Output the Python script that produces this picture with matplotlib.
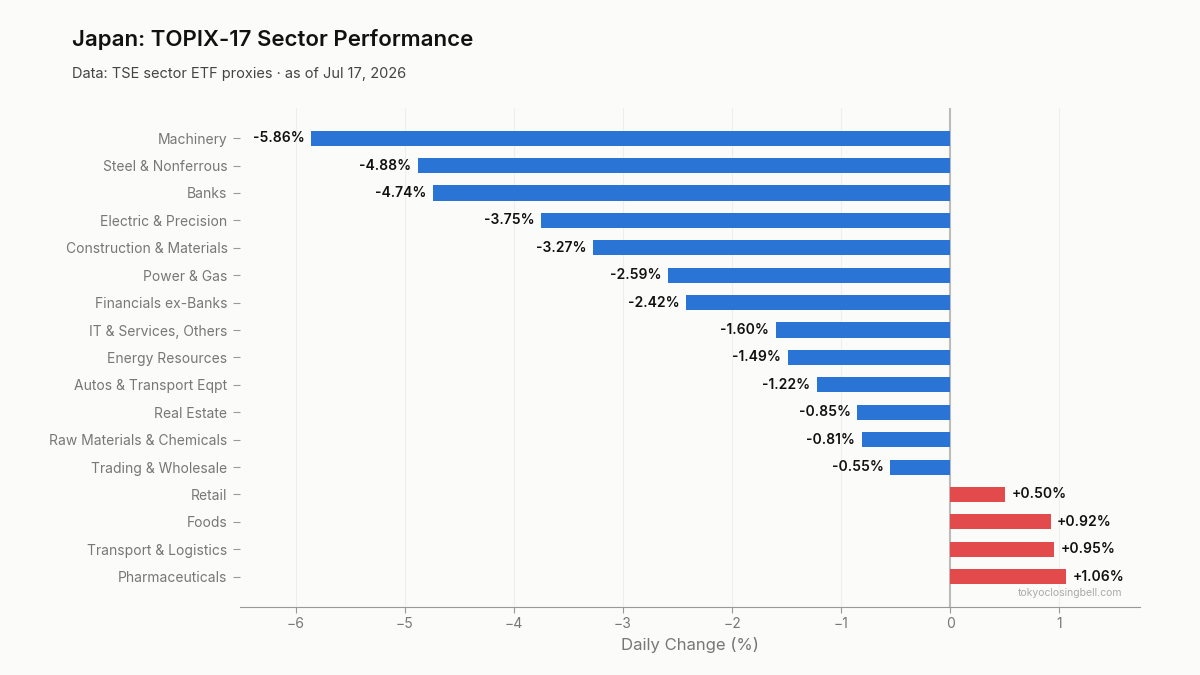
import matplotlib
matplotlib.use('Agg')
import matplotlib.pyplot as plt

plt.rcParams['font.family'] = ['Inter', 'DejaVu Sans']

sectors = ['Machinery', 'Steel & Nonferrous', 'Banks', 'Electric & Precision',
           'Construction & Materials', 'Power & Gas', 'Financials ex-Banks',
           'IT & Services, Others', 'Energy Resources', 'Autos & Transport Eqpt',
           'Real Estate', 'Raw Materials & Chemicals', 'Trading & Wholesale',
           'Retail', 'Foods', 'Transport & Logistics', 'Pharmaceuticals']
changes = [-5.86, -4.88, -4.74, -3.75, -3.27, -2.59, -2.42, -1.60, -1.49,
           -1.22, -0.85, -0.81, -0.55, 0.50, 0.92, 0.95, 1.06]

BG = '#fbfbfa'
fig = plt.figure(figsize=(12, 6.75), dpi=100, facecolor=BG)
ax = fig.add_axes([0.2, 0.101, 0.75, 0.739])
ax.set_facecolor(BG)

ypos = list(range(len(sectors)))
colors = ['#2a74d5' if v < 0 else '#e34a4b' for v in changes]
ax.barh(ypos, changes, height=0.55, color=colors, zorder=3)
for y, v in zip(ypos, changes):
    off = 0.06 if v > 0 else -0.06
    ax.text(v + off, y, f'{v:+.2f}%', ha='left' if v > 0 else 'right',
            va='center', fontsize=10, fontweight='semibold', color='#111111', zorder=4)

ax.axvline(0, color='#bbbbbb', lw=1.5, zorder=2)
ax.set_xlim(-6.51, 1.74)
ax.set_ylim(len(sectors) - 1 + 1.1, -1.1)
ax.set_yticks(ypos)
ax.set_yticklabels(sectors, fontsize=10, color='#777777')
ax.set_xticks(range(-6, 2))
ax.set_xticklabels(['\u2212' + str(-t) if t < 0 else str(t) for t in range(-6, 2)],
                   fontsize=10, color='#777777')
ax.tick_params(axis='y', length=5, color='#999999', pad=4)
ax.tick_params(axis='x', length=4, color='#999999')
ax.grid(axis='x', color='#eeeeee', lw=0.8, zorder=0)
for s in ['top', 'right', 'left']:
    ax.spines[s].set_visible(False)
ax.spines['bottom'].set_color('#999999')
ax.set_xlabel('Daily Change (%)', fontsize=12, color='#777777', labelpad=4)

fig.text(0.06, 0.942, 'Japan: TOPIX-17 Sector Performance', fontsize=16,
         fontweight='semibold', color='#111111', va='center')
fig.text(0.06, 0.89, 'Data: TSE sector ETF proxies \u00b7 as of Jul 17, 2026',
         fontsize=10.5, color='#444444', va='center')
fig.text(0.935, 0.122, 'tokyoclosingbell.com', fontsize=7.5, color='#aaaaaa',
         ha='right', va='center')

fig.savefig('out.png', dpi=100, facecolor=BG)
